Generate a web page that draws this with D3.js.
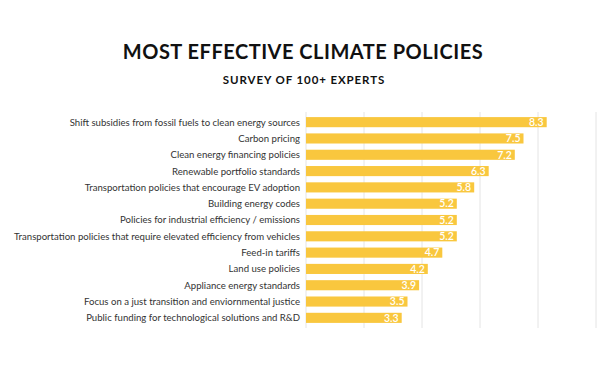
<!DOCTYPE html>
<html><head><meta charset="utf-8">
<script src="https://cdn.jsdelivr.net/npm/d3@7"></script>
<style>body{margin:0;background:#fff;} svg{display:block;}</style>
</head><body>
<svg id="chart" width="604" height="368"></svg>
<script>
const categories = [
  "Shift subsidies from fossil fuels to clean energy sources",
  "Carbon pricing",
  "Clean energy financing policies",
  "Renewable portfolio standards",
  "Transportation policies that encourage EV adoption",
  "Building energy codes",
  "Policies for industrial efficiency / emissions",
  "Transportation policies that require elevated efficiency from vehicles",
  "Feed-in tariffs",
  "Land use policies",
  "Appliance energy standards",
  "Focus on a just transition and enviornmental justice",
  "Public funding for technological solutions and R&D"
];
const values = [8.3, 7.5, 7.2, 6.3, 5.8, 5.2, 5.2, 5.2, 4.7, 4.2, 3.9, 3.5, 3.3];
const gridTicks = [0, 2, 4, 6, 8, 10];

const svg = d3.select("#chart");
const font = "Lato, 'Open Sans', sans-serif";
const x = d3.scaleLinear().domain([0, 10]).range([306, 596]);
const y = d3.scaleBand().domain(categories).range([114, 326]).paddingInner(0.38).paddingOuter(0.19);

svg.append("text").attr("x", 303).attr("y", 59).attr("text-anchor", "middle")
  .attr("font-family", font).attr("font-weight", 700).attr("font-size", 20)
  .attr("letter-spacing", 0.5).attr("fill", "#111").text("MOST EFFECTIVE CLIMATE POLICIES");
svg.append("text").attr("x", 304).attr("y", 84).attr("text-anchor", "middle")
  .attr("font-family", font).attr("font-weight", 700).attr("font-size", 11.5)
  .attr("letter-spacing", 0.9).attr("fill", "#111").text("SURVEY OF 100+ EXPERTS");

svg.append("g").selectAll("line").data(gridTicks).join("line")
  .attr("x1", d => x(d)).attr("x2", d => x(d))
  .attr("y1", 112).attr("y2", 328)
  .attr("stroke", "#e4e4e4").attr("stroke-width", 1);

svg.append("g").selectAll("rect").data(values).join("rect")
  .attr("x", x(0)).attr("y", (d, i) => y(categories[i]))
  .attr("width", d => x(d) - x(0)).attr("height", y.bandwidth())
  .attr("fill", "#F9C73E");

svg.append("g").selectAll("text").data(values).join("text")
  .attr("x", d => x(d) - 3).attr("y", (d, i) => y(categories[i]) + y.bandwidth() / 2)
  .attr("dy", "0.36em").attr("text-anchor", "end")
  .attr("font-family", font).attr("font-size", 10.5).attr("font-weight", 600)
  .attr("fill", "#fff").text(d => d.toFixed(1));

svg.append("g").selectAll("text").data(categories).join("text")
  .attr("x", 300).attr("y", d => y(d) + y.bandwidth() / 2)
  .attr("dy", "0.36em").attr("text-anchor", "end")
  .attr("font-family", font).attr("font-size", 9.6)
  .attr("fill", "#333").text(d => d);
</script>
</body></html>
